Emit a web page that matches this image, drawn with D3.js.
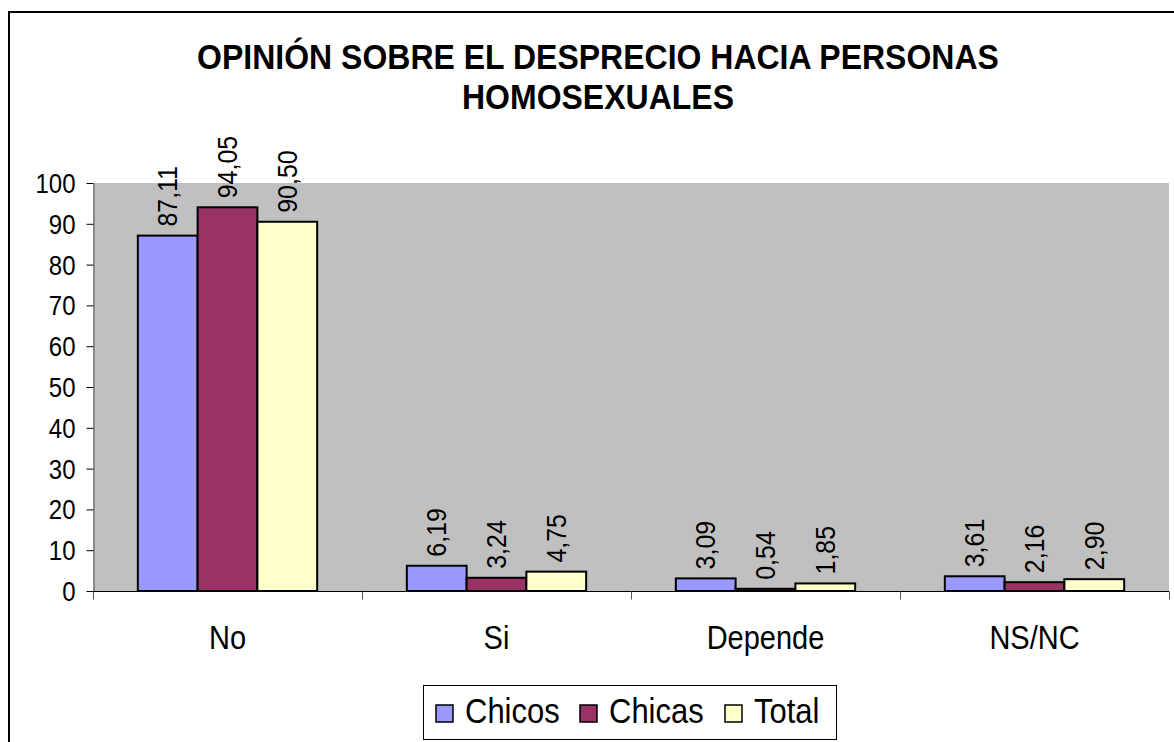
<!DOCTYPE html>
<html>
<head>
<meta charset="utf-8">
<script src="https://cdn.jsdelivr.net/npm/d3@7"></script>
<style>
  body { margin: 0; background: #fff; }
  svg { display: block; }
  text { font-family: Arial, "Liberation Sans", sans-serif; fill: #000; }
</style>
</head>
<body>
<div id="chart"></div>
<script>
// Data
var categories = ["No", "Si", "Depende", "NS/NC"];
var seriesNames = ["Chicos", "Chicas", "Total"];
var chicos = [87.11, 6.19, 3.09, 3.61];
var chicas = [94.05, 3.24, 0.54, 2.16];
var total = [90.50, 4.75, 1.85, 2.90];
var yTicks = [0, 10, 20, 30, 40, 50, 60, 70, 80, 90, 100];
var titleLines = ["OPINIÓN SOBRE EL DESPRECIO HACIA PERSONAS", "HOMOSEXUALES"];

var colors = ["#9999FF", "#993366", "#FFFFCC"];
var seriesValues = [chicos, chicas, total];

var W = 1174, H = 742;
var plot = {left: 93, right: 1169, top: 183, bottom: 591};
var stretch = 1.12; // text in the picture is a bit taller than wide

var svg = d3.select("#chart").append("svg")
    .attr("width", W)
    .attr("height", H);

// Outer chart frame (runs off the right and bottom edges)
svg.append("rect")
    .attr("x", 9).attr("y", 12)
    .attr("width", 1200).attr("height", 800)
    .attr("fill", "#fff")
    .attr("stroke", "#000")
    .attr("stroke-width", 2);

// Title
titleLines.forEach(function(t, i) {
    svg.append("g")
        .attr("transform", "translate(598," + (69 + i * 40) + ") scale(1," + stretch + ")")
        .append("text")
        .attr("text-anchor", "middle")
        .style("font-size", "32px")
        .style("font-weight", "bold")
        .text(t);
});

// Scales
var x0 = d3.scaleBand()
    .domain(categories)
    .range([plot.left, plot.right])
    .paddingInner(0)
    .paddingOuter(0);

// Excel gap width 150% -> bars take 3 / 4.5 of the band
var groupW = x0.bandwidth() * 3 / 4.5;
var x1 = d3.scaleBand()
    .domain(seriesNames)
    .range([0, groupW]);

var y = d3.scaleLinear()
    .domain([0, 100])
    .range([plot.bottom, plot.top]);

// Plot area
svg.append("rect")
    .attr("x", plot.left).attr("y", plot.top)
    .attr("width", plot.right - plot.left)
    .attr("height", plot.bottom - plot.top)
    .attr("fill", "#C0C0C0");

// Y axis
var yAxis = svg.append("g")
    .attr("transform", "translate(" + (plot.left + 0.5) + ",0)")
    .call(d3.axisLeft(y).tickValues(yTicks).tickSize(7).tickSizeOuter(0).tickPadding(11));
yAxis.select(".domain").attr("stroke", "#555");
yAxis.selectAll(".tick line").attr("stroke", "#000");
yAxis.selectAll(".tick text")
    .style("font-size", "24px")
    .attr("dy", null)
    .attr("transform", "scale(1," + stretch + ")")
    .attr("dominant-baseline", "central");

// X axis: tick marks at category boundaries
var xAxisG = svg.append("g")
    .attr("transform", "translate(0," + (plot.bottom + 0.5) + ")");
xAxisG.append("line")
    .attr("x1", plot.left).attr("x2", plot.right)
    .attr("stroke", "#000");
var bounds = categories.map(function(c) { return x0(c); }).concat([plot.right]);
xAxisG.selectAll("line.tk")
    .data(bounds)
    .enter().append("line")
    .attr("class", "tk")
    .attr("x1", function(d) { return Math.round(d) + 0.5; })
    .attr("x2", function(d) { return Math.round(d) + 0.5; })
    .attr("y1", 0).attr("y2", 8)
    .attr("stroke", "#555");
xAxisG.selectAll("g.cat")
    .data(categories)
    .enter().append("g")
    .attr("class", "cat")
    .attr("transform", function(d) {
        return "translate(" + (x0(d) + x0.bandwidth() / 2) + ",57) scale(1," + stretch + ")";
    })
    .append("text")
    .attr("text-anchor", "middle")
    .style("font-size", "29px")
    .text(function(d) { return d; });

// Bars
var groups = svg.selectAll("g.grp")
    .data(categories)
    .enter().append("g")
    .attr("class", "grp")
    .attr("transform", function(d) {
        return "translate(" + (x0(d) + (x0.bandwidth() - groupW) / 2) + ",0)";
    });

var fmt = function(v) { return d3.format(".2f")(v).replace(".", ","); };

groups.selectAll("rect")
    .data(function(d, i) {
        return seriesNames.map(function(s, j) { return {s: s, v: seriesValues[j][i], j: j}; });
    })
    .enter().append("rect")
    .attr("x", function(d) { return x1(d.s); })
    .attr("y", function(d) { return y(d.v); })
    .attr("width", x1.bandwidth())
    .attr("height", function(d) { return y(0) - y(d.v); })
    .attr("fill", function(d) { return colors[d.j]; })
    .attr("stroke", "#000")
    .attr("stroke-width", 2);

// Value labels, rotated
groups.selectAll("text.val")
    .data(function(d, i) {
        return seriesNames.map(function(s, j) { return {s: s, v: seriesValues[j][i], j: j}; });
    })
    .enter().append("text")
    .attr("class", "val")
    .attr("transform", function(d) {
        return "translate(" + (x1(d.s) + x1.bandwidth() / 2) + "," + (y(d.v) - 9) + ") rotate(-90) scale(1.04,1.12)";
    })
    .attr("dominant-baseline", "central")
    .style("font-size", "24px")
    .text(function(d) { return fmt(d.v); });

// Legend
var legend = svg.append("g");
legend.append("rect")
    .attr("x", 423.5).attr("y", 685.5)
    .attr("width", 413).attr("height", 54)
    .attr("fill", "#fff")
    .attr("stroke", "#000")
    .attr("stroke-width", 1);
var legendX = [436, 580, 725];
seriesNames.forEach(function(s, i) {
    legend.append("rect")
        .attr("x", legendX[i]).attr("y", 705)
        .attr("width", 17).attr("height", 17)
        .attr("fill", colors[i])
        .attr("stroke", "#000")
        .attr("stroke-width", 1.5);
    legend.append("g")
        .attr("transform", "translate(" + (legendX[i] + 29) + ",723) scale(1," + stretch + ")")
        .append("text")
        .style("font-size", "31px")
        .text(s);
});
</script>
</body>
</html>
